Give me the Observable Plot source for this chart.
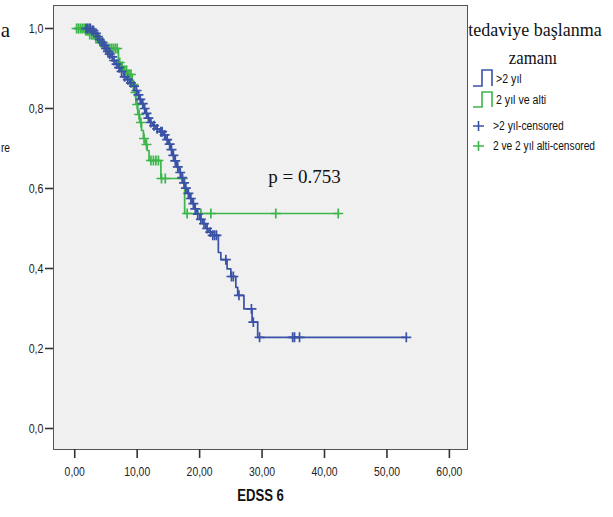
<!DOCTYPE html>
<html><head><meta charset="utf-8">
<script src="https://cdn.jsdelivr.net/npm/d3@7"></script>
<script src="https://cdn.jsdelivr.net/npm/@observablehq/plot@0.6"></script>
<style>
html,body{margin:0;padding:0;background:#fff;}
#wrap{position:relative;width:613px;height:517px;overflow:hidden;background:#fff;}
#wrap svg{position:absolute;left:0;top:0;}
</style></head>
<body><div id="wrap"></div>
<script>
// ---- data ----
const groups = [">2 yıl", "2 yıl ve alti"];
const censorLabels = [">2 yıl-censored", "2 ve 2 yıl alti-censored"];
const legendTitle = ["tedaviye başlanma", "zamanı"];
const xLabel = "EDSS 6";
const pText = "p = 0.753";

const blueT = [0, 2.6, 3.2, 3.6, 3.9, 4.2, 4.5, 4.8, 5.1, 5.4, 5.8, 6.1, 6.5, 6.9, 7.3, 7.8, 8.3, 8.8, 9.3, 9.8, 10.1, 10.4, 10.7, 11.0, 11.3, 11.6, 12.0, 12.5, 13.0, 13.6, 14.2, 14.6, 15.0, 15.3, 15.6, 15.9, 16.3, 16.7, 17.0, 17.3, 17.6, 18.0, 18.4, 18.8, 19.2, 19.5, 20.0, 20.5, 21.0, 21.5, 22.0, 23.0, 23.4, 24.4, 25.0, 25.8, 26.1, 27.1, 28.4, 29.3];
const blueS = [1.0, 0.995, 0.988, 0.98, 0.972, 0.965, 0.958, 0.95, 0.943, 0.936, 0.929, 0.92, 0.911, 0.902, 0.893, 0.879, 0.872, 0.864, 0.856, 0.845, 0.834, 0.823, 0.812, 0.80, 0.788, 0.776, 0.765, 0.757, 0.749, 0.742, 0.734, 0.722, 0.711, 0.697, 0.683, 0.669, 0.654, 0.64, 0.627, 0.614, 0.601, 0.588, 0.575, 0.562, 0.549, 0.536, 0.523, 0.512, 0.500, 0.491, 0.483, 0.44, 0.422, 0.399, 0.38, 0.353, 0.333, 0.299, 0.266, 0.228];
const blueEnd = 53.1;
const blueCensor = [1.8, 2.0, 2.3, 2.5, 2.8, 3.0, 3.4, 3.7, 4.0, 4.4, 4.7, 5.0, 5.3, 5.6, 6.0, 6.3, 6.7, 7.1, 7.5, 8.0, 8.5, 9.0, 9.5, 9.9, 10.2, 10.5, 10.9, 11.2, 11.5, 11.8, 12.2, 12.7, 13.2, 13.8, 14.0, 14.4, 14.8, 15.2, 15.5, 15.8, 16.1, 16.5, 16.9, 17.2, 17.5, 17.8, 18.2, 18.6, 19.0, 19.3, 19.7, 20.2, 20.7, 21.2, 21.7, 22.1, 22.4, 22.7, 24.2, 25.1, 25.4, 26.3, 28.3, 28.6, 29.6, 34.9, 35.2, 36.0, 53.1];

const greenT = [0, 1.6, 2.4, 3.2, 4.0, 4.6, 5.2, 7.0, 7.4, 7.9, 8.5, 9.2, 9.5, 9.8, 10.1, 10.4, 10.7, 11.0, 11.3, 11.6, 11.9, 13.8, 17.6];
const greenS = [1.0, 0.995, 0.985, 0.975, 0.965, 0.957, 0.95, 0.915, 0.905, 0.895, 0.885, 0.86, 0.84, 0.81, 0.785, 0.765, 0.745, 0.725, 0.71, 0.695, 0.67, 0.625, 0.5375];
const greenEnd = 42.2;
const greenCensor = [0.3, 0.6, 0.9, 1.2, 1.5, 1.8, 2.1, 2.4, 2.7, 3.0, 3.4, 3.8, 4.2, 4.5, 4.9, 5.3, 5.6, 5.9, 6.2, 6.5, 6.8, 7.2, 7.6, 8.0, 8.3, 8.7, 9.0, 9.4, 9.7, 10.0, 10.3, 10.6, 11.1, 11.5, 12.2, 12.6, 13.0, 13.4, 13.9, 14.5, 17.3, 18.0, 20.2, 21.8, 32.2, 42.2];

const xTicks = [0, 10, 20, 30, 40, 50, 60];
const xTickLabels = ["0,00", "10,00", "20,00", "30,00", "40,00", "50,00", "60,00"];
const yTicks = [0, 0.2, 0.4, 0.6, 0.8, 1.0];
const yTickLabels = ["0,0", "0,2", "0,4", "0,6", "0,8", "1,0"];

const BLUE = "#3a52a5";
const GREEN = "#3cb64a";
const SANS = '"Liberation Sans",Arial,sans-serif';
const SERIF = '"Liberation Serif","Times New Roman",serif';

// ---- build tables ----
function stepPts(T, S, end) {
  const pts = T.map((t, i) => ({t, s: S[i]}));
  pts.push({t: end, s: S[S.length - 1]});
  return pts;
}
function survAt(T, S, t) {
  let s = S[0];
  for (let i = 0; i < T.length; i++) if (T[i] <= t) s = S[i];
  return s;
}
const bluePts = stepPts(blueT, blueS, blueEnd);
const greenPts = stepPts(greenT, greenS, greenEnd);
const blueC = blueCensor.map(t => ({t, s: survAt(blueT, blueS, t)}));
const greenC = greenCensor.map(t => ({t, s: survAt(greenT, greenS, t)}));

const chart = Plot.plot({
  width: 613, height: 517,
  marginLeft: 53, marginRight: 146, marginTop: 5, marginBottom: 68,
  style: {fontFamily: SANS, fontSize: "13px", color: "#222", background: "transparent", overflow: "visible"},
  x: {domain: [-3.4, 62.9]},
  y: {domain: [-0.0525, 1.0575]},
  marks: [
    Plot.frame({fill: "#f0f0f0", stroke: "#555", strokeWidth: 1}),
    Plot.axisY(yTicks, {tickSize: 8, tickPadding: 2, strokeWidth: 1.6, stroke: "#333", fontSize: 13,
      tickFormat: d => yTickLabels[yTicks.indexOf(d)], label: null}),
    Plot.axisX(xTicks, {tickSize: 9, tickPadding: 8, strokeWidth: 1.6, stroke: "#333", fontSize: 13,
      tickFormat: d => xTickLabels[xTicks.indexOf(d)], label: null}),
    Plot.line(greenPts, {x: "t", y: "s", curve: "step-after", stroke: GREEN, strokeWidth: 1.7}),
    Plot.line(bluePts, {x: "t", y: "s", curve: "step-after", stroke: BLUE, strokeWidth: 1.7}),
    Plot.dot(greenC, {x: "t", y: "s", symbol: "plus", r: 3.3, stroke: GREEN, strokeWidth: 1.7}),
    Plot.dot(blueC, {x: "t", y: "s", symbol: "plus", r: 3.3, stroke: BLUE, strokeWidth: 1.7}),
    Plot.text([pText], {x: 31, y: 0.63, text: d => d, textAnchor: "start", fontFamily: SERIF, fontSize: 19, fill: "#111"}),
    Plot.text([xLabel], {frameAnchor: "bottom", dy: 51, text: d => d, fontWeight: "bold", fontSize: 16, fill: "#111", fontFamily: SANS})
  ]
});
const wrap = document.getElementById("wrap");
wrap.appendChild(chart);

// condense text horizontally (narrow face look) without moving it
function condense(el, k) {
  const w = el.getComputedTextLength();
  if (w > 0) {
    el.setAttribute("textLength", (w * k).toFixed(2));
    el.setAttribute("lengthAdjust", "spacingAndGlyphs");
  }
}

// ---- legend & cut-off texts (overlay svg) ----
const ns = "http://www.w3.org/2000/svg";
const ov = document.createElementNS(ns, "svg");
ov.setAttribute("width", 613); ov.setAttribute("height", 517);
wrap.appendChild(ov);
function txt(x, y, s, fam, size, anchor, k, weight) {
  const t = document.createElementNS(ns, "text");
  t.setAttribute("x", x); t.setAttribute("y", y);
  t.setAttribute("font-family", fam); t.setAttribute("font-size", size);
  t.setAttribute("text-anchor", anchor || "start");
  if (weight) t.setAttribute("font-weight", weight);
  t.setAttribute("fill", "#111");
  t.textContent = s; ov.appendChild(t);
  if (k && k !== 1) condense(t, k);
}
function path(d, color) {
  const p = document.createElementNS(ns, "path");
  p.setAttribute("d", d); p.setAttribute("fill", "none");
  p.setAttribute("stroke", color); p.setAttribute("stroke-width", 1.6);
  ov.appendChild(p);
}
txt(535, 36, legendTitle[0], SERIF, 18, "middle");
txt(533, 64, legendTitle[1], SERIF, 19, "middle", 0.88);
path("M473,86H482V70H492V86", BLUE);
txt(496, 83, groups[0], SANS, 12.5, "start", 0.85);
path("M473,107H482V92H492V107", GREEN);
txt(496, 104, groups[1], SANS, 12.5, "start", 0.85);
path("M473,126H484M478.5,121V131", BLUE);
txt(493, 130, censorLabels[0], SANS, 12, "start", 0.86);
path("M473,146H484M478.5,141V151", GREEN);
txt(493, 150, censorLabels[1], SANS, 12, "start", 0.85);
txt(10, 37, "a", SERIF, 21, "end");
txt(10, 152, "re", SANS, 12, "end", 0.85);

chart.querySelectorAll('g[aria-label="x-axis tick label"] text').forEach(e => condense(e, 0.8));
chart.querySelectorAll('g[aria-label="y-axis tick label"] text').forEach(e => condense(e, 0.82));
chart.querySelectorAll('g[aria-label="text"] text').forEach(e => {
  if (e.textContent === xLabel) condense(e, 0.82);
});
</script></body></html>
